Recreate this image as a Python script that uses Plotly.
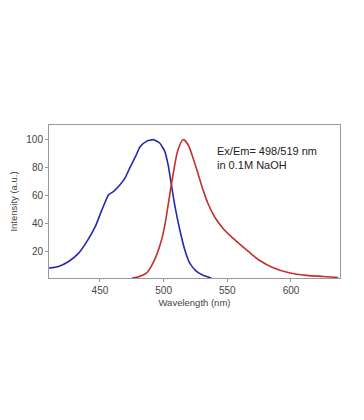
import plotly.graph_objects as go

# Excitation (blue)
ex_wl = [409.7, 417.5, 425.4, 433.3, 439.8, 446.4, 451.6, 456.8, 460.8, 465.6, 470.0, 473.5, 478.0, 481.5, 486.5, 491.7, 496.9, 500.9, 503.5, 506.1, 508.7, 512.7, 516.6, 520.5, 525.8, 531.0, 537.6]
ex_int = [8.1, 9.3, 12.8, 18.8, 27.2, 37.9, 49.9, 60.6, 63.0, 67.5, 73.0, 80.0, 88.0, 95.0, 98.8, 100.0, 97.6, 91.6, 82.1, 67.8, 53.4, 35.5, 21.2, 11.7, 5.7, 3.0, 0.9]

# Emission (red)
em_wl = [475.2, 481.0, 486.5, 490.4, 494.3, 498.3, 501.0, 503.5, 507.4, 511.3, 515.3, 519.2, 523.1, 527.1, 531.0, 535.0, 540.2, 546.7, 552.0, 557.5, 566.8, 575.5, 586.0, 599.1, 612.2, 625.3, 637.1]
em_int = [0.9, 2.1, 4.5, 9.5, 17.0, 28.0, 39.0, 53.0, 74.9, 92.8, 100.0, 96.4, 86.9, 75.5, 64.0, 54.0, 44.5, 36.5, 31.5, 27.0, 19.8, 13.5, 8.3, 4.6, 2.9, 2.1, 1.4]

x_ticks = [450, 500, 550, 600]
y_ticks = [20, 40, 60, 80, 100]

fig = go.Figure()
fig.add_trace(go.Scatter(x=ex_wl, y=ex_int, mode="lines", line=dict(color="#2727B0", width=1.6, shape="spline", smoothing=0.5), showlegend=False))
fig.add_trace(go.Scatter(x=em_wl, y=em_int, mode="lines", line=dict(color="#C2302E", width=1.6, shape="spline", smoothing=0.9), showlegend=False))

axis_common = dict(showline=True, linecolor="#999999", linewidth=1, mirror=True, showgrid=False, zeroline=False,
                   ticks="outside", ticklen=3, tickcolor="#999999", automargin=False,
                   tickfont=dict(family="Liberation Sans, Arial", size=10, color="#444444"))
fig.update_xaxes(range=[410, 638.5], tickvals=x_ticks, title=dict(text="Wavelength (nm)", font=dict(family="Liberation Sans, Arial", size=9.5, color="#444444"), standoff=4), **axis_common)
fig.update_yaxes(range=[1, 110.5], tickvals=y_ticks, title=dict(text="Intensity (a.u.)", font=dict(family="Liberation Sans, Arial", size=9.5, color="#444444"), standoff=8), **axis_common)

W, H = 364, 420
L, R, T, B = 41, 32, 117, 150
pw, ph = W - L - R, H - T - B

fig.add_annotation(x=(207 - L) / pw, y=1 - (150 - T) / ph, xref="paper", yref="paper",
                   text="Ex/Em= 498/519 nm<br>in 0.1M NaOH", showarrow=False, align="left",
                   xanchor="left", yanchor="middle",
                   font=dict(family="Liberation Sans, Arial", size=11, color="#222222"))

fig.update_layout(width=W, height=H, margin=dict(l=L, r=R, t=T, b=B),
                  paper_bgcolor="white", plot_bgcolor="white")
fig.write_html("out.html")
